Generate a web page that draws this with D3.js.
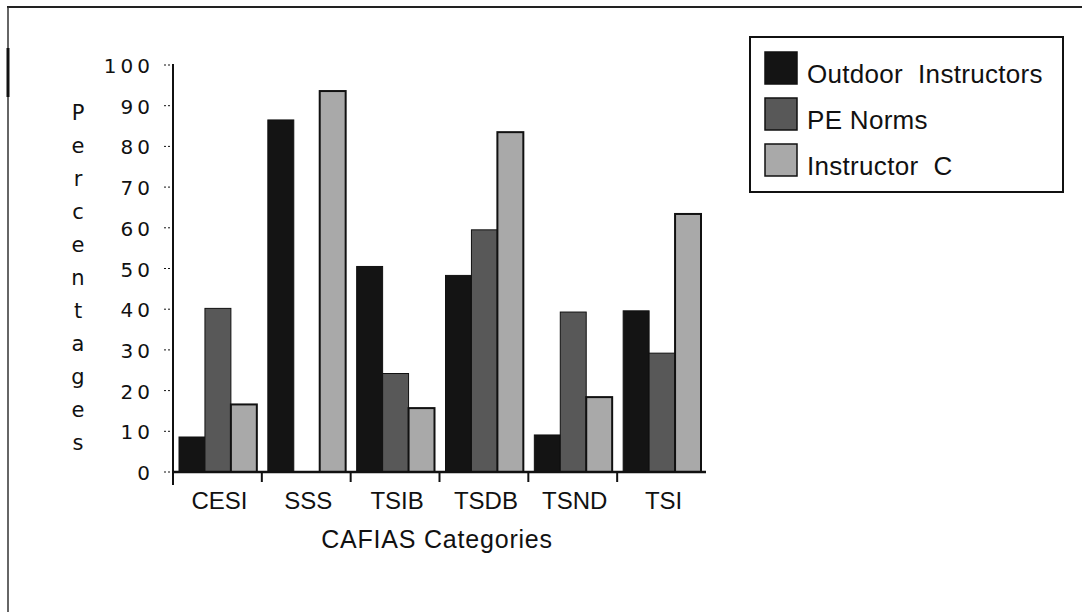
<!DOCTYPE html>
<html>
<head>
<meta charset="utf-8">
<script src="https://cdn.jsdelivr.net/npm/d3@7"></script>
<style>
    body { margin: 0; background: #fff; }
    text { font-family: 'Liberation Sans', Arial, sans-serif; fill: #111; }
    .wide { font-family: 'DejaVu Sans', sans-serif; }
</style>
</head>
<body>
<svg width="1082" height="612"></svg>
<script>
const categories = ['CESI', 'SSS', 'TSIB', 'TSDB', 'TSND', 'TSI'];
const seriesNames = ['Outdoor  Instructors', 'PE Norms', 'Instructor  C'];
const outdoorInstructors = [8.6, 86.5, 50.5, 48.3, 9.1, 39.6];
const peNorms = [40.2, 0, 24.2, 59.5, 39.3, 29.2];
const instructorC = [16.6, 93.6, 15.7, 83.5, 18.4, 63.4];
const yTicks = [0, 10, 20, 30, 40, 50, 60, 70, 80, 90, 100];
const yTitle = 'Percentages';
const xTitle = 'CAFIAS Categories';

const series = [outdoorInstructors, peNorms, instructorC];
const colors = ['#141414', '#585858', '#a9a9a9'];

const svg = d3.select('svg');

// page frame (top and left edges only, as in the scan)
svg.append('line').attr('x1', 7).attr('x2', 1082).attr('y1', 7).attr('y2', 7)
    .style('stroke', '#222').style('stroke-width', 2);
svg.append('line').attr('x1', 8).attr('x2', 8).attr('y1', 7).attr('y2', 612)
    .style('stroke', '#333').style('stroke-width', 1.5);
svg.append('line').attr('x1', 8).attr('x2', 8).attr('y1', 48).attr('y2', 97)
    .style('stroke', '#111').style('stroke-width', 3);

const plotLeft = 173, plotRight = 706, plotTop = 65, plotBottom = 472;

const x0 = d3.scaleBand()
    .domain(categories)
    .range([plotLeft, plotRight]);

const x1 = d3.scaleBand()
    .domain(d3.range(series.length))
    .range([6, x0.bandwidth() - 5]);

const y = d3.scaleLinear()
    .domain([0, 100])
    .range([plotBottom, plotTop]);

// bars
const groups = svg.append('g')
    .selectAll('g')
    .data(categories)
    .enter().append('g')
    .attr('transform', d => 'translate(' + x0(d) + ',0)');

groups.selectAll('rect')
    .data((d, i) => series.map((s, k) => ({k: k, v: s[i]})))
    .enter().append('rect')
    .attr('x', d => x1(d.k))
    .attr('width', x1.bandwidth())
    .attr('y', d => y(d.v))
    .attr('height', d => plotBottom - y(d.v))
    .style('fill', d => colors[d.k])
    .style('stroke', '#111')
    .style('stroke-width', d => (d.k == 2 ? 2 : 1));

// y axis
svg.append('line').attr('x1', plotLeft).attr('x2', plotLeft).attr('y1', 64).attr('y2', 485)
    .style('stroke', '#111').style('stroke-width', 2);

const yAxis = svg.append('g');
yAxis.selectAll('line')
    .data(yTicks)
    .enter().append('line')
    .attr('x1', plotLeft - 9).attr('x2', plotLeft)
    .attr('y1', d => y(d)).attr('y2', d => y(d))
    .style('stroke', '#111')
    .style('stroke-dasharray', '2,2');
yAxis.selectAll('text')
    .data(yTicks)
    .enter().append('text')
    .attr('class', 'wide')
    .attr('x', 154)
    .attr('y', d => y(d) + 8)
    .attr('text-anchor', 'end')
    .style('font-size', '20px')
    .style('letter-spacing', '4px')
    .text(d => d);

// y title, one letter per line
svg.append('g')
    .selectAll('text')
    .data(yTitle.split(''))
    .enter().append('text')
    .attr('class', 'wide')
    .attr('x', 78)
    .attr('y', (d, i) => 120 + i * 33)
    .attr('text-anchor', 'middle')
    .style('font-size', '21px')
    .text(d => d);

// x axis
svg.append('line').attr('x1', plotLeft).attr('x2', plotRight).attr('y1', plotBottom).attr('y2', plotBottom)
    .style('stroke', '#111').style('stroke-width', 2.5);

svg.append('g')
    .selectAll('line')
    .data(categories.slice(1))
    .enter().append('line')
    .attr('x1', d => x0(d)).attr('x2', d => x0(d))
    .attr('y1', plotBottom).attr('y2', plotBottom + 10)
    .style('stroke', '#111').style('stroke-width', 2);

svg.append('g')
    .selectAll('text')
    .data(categories)
    .enter().append('text')
    .attr('x', d => x0(d) + x0.bandwidth() / 2 + 2)
    .attr('y', 509)
    .attr('text-anchor', 'middle')
    .style('font-size', '24px')
    .text(d => d);

svg.append('text')
    .attr('x', 437)
    .attr('y', 548)
    .attr('text-anchor', 'middle')
    .style('font-size', '25px')
    .style('letter-spacing', '0.8px')
    .text(xTitle);

// legend
const legend = svg.append('g');
legend.append('rect')
    .attr('x', 750).attr('y', 37).attr('width', 313).attr('height', 155)
    .style('fill', '#fff').style('stroke', '#111').style('stroke-width', 2);

const items = legend.selectAll('g')
    .data(seriesNames)
    .enter().append('g')
    .attr('transform', (d, i) => 'translate(765,' + (52 + i * 46) + ')');

items.append('rect')
    .attr('width', 32).attr('height', 32)
    .style('fill', (d, i) => colors[i])
    .style('stroke', '#111').style('stroke-width', 1.5);

items.append('text')
    .attr('x', 42).attr('y', 31)
    .style('font-size', '26px')
    .style('letter-spacing', '0.3px')
    .style('white-space', 'pre')
    .attr('xml:space', 'preserve')
    .text(d => d);
</script>
</body>
</html>
